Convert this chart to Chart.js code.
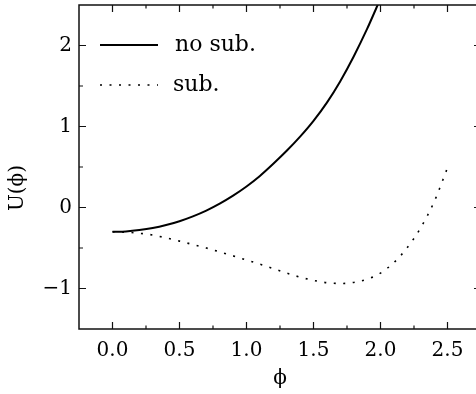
<!DOCTYPE html>
<html>
<head>
<meta charset="utf-8">
<script src="https://cdn.jsdelivr.net/npm/chart.js@4"></script>
<style>
  html, body { margin: 0; padding: 0; overflow: hidden; background: #fff; }
  canvas { display: block; }
</style>
</head>
<body>
<canvas id="potChart" width="490" height="394"></canvas>
<script>
// phi values (x) and potential U(phi)
const phi = [0.0, 0.1, 0.2, 0.3, 0.4, 0.5, 0.6, 0.7, 0.8, 0.9, 1.0, 1.1, 1.2,
             1.3, 1.4, 1.5, 1.6, 1.7, 1.8, 1.9, 2.0, 2.1, 2.2, 2.3, 2.4, 2.5];
const noSub = [-0.30, -0.295, -0.279, -0.254, -0.217, -0.169, -0.109, -0.038, 0.048, 0.147, 0.26,
               0.39, 0.54, 0.70, 0.875, 1.07, 1.295, 1.56, 1.865, 2.205, 2.58];
const sub = [-0.30, -0.305, -0.318, -0.34, -0.375, -0.415, -0.457, -0.50, -0.548, -0.597, -0.648,
             -0.70, -0.755, -0.81, -0.86, -0.90, -0.928, -0.938, -0.925, -0.885, -0.81,
             -0.68, -0.495, -0.25, 0.07, 0.49];

const xTicks = [0.0, 0.5, 1.0, 1.5, 2.0, 2.5];
const xMinor = [0.25, 0.75, 1.25, 1.75, 2.25];
const yTicks = [-1, 0, 1, 2];
const yMinor = [-0.5, 0.5, 1.5];

const seriesNames = ['no sub.', 'sub.'];

const FONT = '"DejaVu Serif", "Liberation Serif", serif';

// frame, inward ticks, legend and y title
const framePlugin = {
    id: 'frame',
    afterDraw(chart) {
        const ctx = chart.ctx;
        const a = chart.chartArea;
        const xs = chart.scales.x;
        const ys = chart.scales.y;
        ctx.save();
        ctx.strokeStyle = '#111';
        ctx.lineWidth = 1.5;
        ctx.strokeRect(a.left, a.top, a.right - a.left, a.bottom - a.top);

        ctx.lineWidth = 1.2;
        ctx.beginPath();
        const xMark = (v, len) => {
            const px = xs.getPixelForValue(v);
            ctx.moveTo(px, a.bottom); ctx.lineTo(px, a.bottom - len);
            ctx.moveTo(px, a.top); ctx.lineTo(px, a.top + len);
        };
        const yMark = (v, len) => {
            const py = ys.getPixelForValue(v);
            ctx.moveTo(a.left, py); ctx.lineTo(a.left + len, py);
            ctx.moveTo(a.right, py); ctx.lineTo(a.right - len, py);
        };
        xTicks.forEach(v => xMark(v, 7));
        xMinor.forEach(v => xMark(v, 3.5));
        yTicks.forEach(v => yMark(v, 7));
        yMinor.forEach(v => yMark(v, 4));
        ctx.stroke();

        // legend inside the plot
        ctx.strokeStyle = '#000';
        ctx.fillStyle = '#000';
        ctx.font = '22px ' + FONT;
        ctx.textBaseline = 'middle';
        ctx.textAlign = 'left';
        const lx0 = a.left + 21, lx1 = a.left + 79;
        const r1 = a.top + 40, r2 = a.top + 80;
        ctx.lineWidth = 2;
        ctx.setLineDash([]);
        ctx.beginPath(); ctx.moveTo(lx0, r1); ctx.lineTo(lx1, r1); ctx.stroke();
        ctx.fillText(seriesNames[0], a.left + 96, r1);
        ctx.lineWidth = 1.6;
        ctx.setLineDash([2, 7.5]);
        ctx.beginPath(); ctx.moveTo(lx0, r2); ctx.lineTo(lx1, r2); ctx.stroke();
        ctx.setLineDash([]);
        ctx.fillText(seriesNames[1], a.left + 94, r2);

        // y axis title
        ctx.font = '20px ' + FONT;
        ctx.translate(18, 188);
        ctx.rotate(-Math.PI / 2);
        ctx.textAlign = 'center';
        ctx.fillText('U(\u03D5)', 0, 0);
        ctx.restore();
    }
};

const ctx = document.getElementById('potChart').getContext('2d');
const potChart = new Chart(ctx, {
    type: 'line',
    data: {
        datasets: [
            {
                label: seriesNames[0],
                data: noSub.map((u, i) => ({ x: phi[i], y: u })),
                borderColor: '#000',
                borderWidth: 2,
                pointRadius: 0,
                cubicInterpolationMode: 'monotone',
                fill: false
            },
            {
                label: seriesNames[1],
                data: sub.map((u, i) => ({ x: phi[i], y: u })),
                borderColor: '#000',
                borderWidth: 1.6,
                borderDash: [2, 7.5],
                pointRadius: 0,
                cubicInterpolationMode: 'monotone',
                fill: false
            }
        ]
    },
    options: {
        responsive: false,
        animation: false,
        layout: { padding: { left: 0, right: 9, top: 5, bottom: 0 } },
        plugins: {
            legend: { display: false },
            tooltip: { enabled: false }
        },
        scales: {
            x: {
                type: 'linear',
                min: -0.25,
                max: 2.75,
                grid: { display: false, drawTicks: false },
                border: { display: false },
                afterBuildTicks: scale => { scale.ticks = xTicks.map(v => ({ value: v })); },
                afterFit: scale => {
                    scale.height = 65;
                    scale.paddingLeft = 0;
                    scale.paddingRight = 0;
                },
                ticks: {
                    padding: 10,
                    color: '#000',
                    font: { family: FONT, size: 20 },
                    callback: v => v.toFixed(1)
                },
                title: {
                    display: true,
                    text: '\u03D5',
                    color: '#000',
                    font: { family: FONT, size: 20 },
                    padding: { top: 0, bottom: 3 }
                }
            },
            y: {
                type: 'linear',
                min: -1.5,
                max: 2.5,
                grid: { display: false, drawTicks: false },
                border: { display: false },
                afterBuildTicks: scale => { scale.ticks = yTicks.map(v => ({ value: v })); },
                afterFit: scale => {
                    scale.width = 79;
                    scale.paddingTop = 0;
                    scale.paddingBottom = 0;
                },
                ticks: {
                    padding: 7,
                    color: '#000',
                    font: { family: FONT, size: 20 },
                    callback: v => String(v).replace('-', '\u2212')
                }
            }
        }
    },
    plugins: [framePlugin]
});
</script>
</body>
</html>
